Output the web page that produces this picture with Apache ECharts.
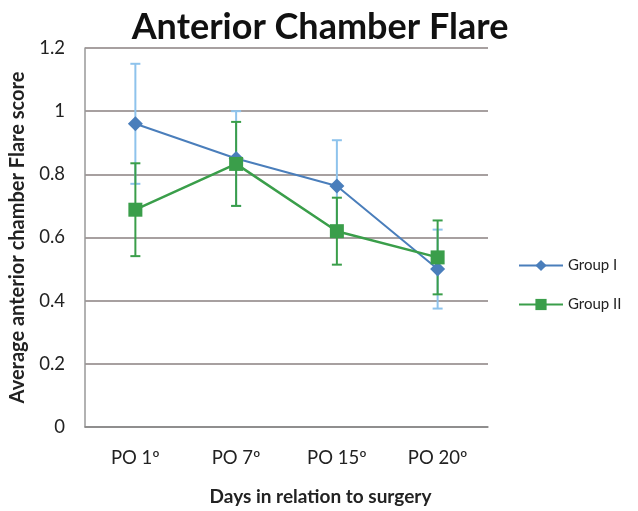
<!DOCTYPE html>
<html><head><meta charset="utf-8">
<script src="https://cdn.jsdelivr.net/npm/echarts@6/dist/echarts.min.js"></script>
<style>html,body{margin:0;padding:0;background:#fff}#c{width:638px;height:511px}</style>
</head><body><div id="c"></div>
<script>
const categories = ['PO 1º', 'PO 7º', 'PO 15º', 'PO 20º'];
const groupI = [0.96, 0.85, 0.763, 0.50];
const groupIErr = [0.19, 0.15, 0.145, 0.125];
const groupII = [0.688, 0.833, 0.62, 0.537];
const groupIIErr = [0.147, 0.133, 0.106, 0.117];

const blue = '#4a7ebb', lightBlue = '#8ec3ec', green = '#3a9e4a';
const font = 'Lato, "Open Sans", sans-serif';

function errData(vals, errs){ return vals.map((v,i)=>[i, v-errs[i], v+errs[i]]); }
function errRender(color){
  return function(params, api){
    const x = api.value(0);
    const lo = api.coord([x, api.value(1)]);
    const hi = api.coord([x, api.value(2)]);
    const w = 5;
    const st = {stroke: color, lineWidth: 2};
    return {type:'group', children:[
      {type:'line', shape:{x1:lo[0],y1:lo[1],x2:hi[0],y2:hi[1]}, style:st},
      {type:'line', shape:{x1:lo[0]-w,y1:lo[1],x2:lo[0]+w,y2:lo[1]}, style:st},
      {type:'line', shape:{x1:hi[0]-w,y1:hi[1],x2:hi[0]+w,y2:hi[1]}, style:st}
    ]};
  };
}

const chart = echarts.init(document.getElementById('c'));
chart.setOption({
  animation:false,
  title:{text:'Anterior Chamber Flare', left:315, textAlign:'center', top:4,
    textStyle:{fontFamily:font, fontWeight:'bold', fontSize:36, color:'#111'}},
  grid:{left:85, right:150, top:48, bottom:81},
  legend:{orient:'vertical', left:513, top:253, itemGap:24, itemWidth:44, itemHeight:14,
    textStyle:{fontFamily:font, fontSize:15, color:'#222'},
    data:['Group I','Group II']},
  xAxis:{type:'category', data:categories, boundaryGap:true,
    axisTick:{show:false}, axisLine:{lineStyle:{color:'#888', width:1.5}},
    axisLabel:{fontFamily:font, fontSize:18.5, color:'#222', margin:22},
    name:'Days in relation to surgery', nameLocation:'middle', nameGap:60,
    nameTextStyle:{fontFamily:font, fontSize:19, fontWeight:'bold', color:'#222', padding:[0,0,0,68]}},
  yAxis:{type:'value', min:0, max:1.2, interval:0.2,
    axisLine:{show:true, lineStyle:{color:'#999', width:1.5}}, axisTick:{show:false},
    splitLine:{lineStyle:{color:'#8a8080', width:1.5}},
    axisLabel:{fontFamily:font, fontSize:18.5, color:'#222', margin:20},
    name:'Average anterior chamber Flare score', nameLocation:'middle', nameGap:57, nameRotate:90,
    nameTextStyle:{fontFamily:font, fontSize:20, fontWeight:'bold', color:'#222'}},
  series:[
    {type:'custom', name:'errI', renderItem:errRender(lightBlue), data:errData(groupI, groupIErr), z:1, silent:true},
    {type:'custom', name:'errII', renderItem:errRender(green), data:errData(groupII, groupIIErr), z:2, silent:true},
    {type:'line', name:'Group I', data:groupI, symbol:'diamond', symbolSize:15,
      lineStyle:{color:blue, width:2}, itemStyle:{color:blue}, z:3},
    {type:'line', name:'Group II', data:groupII, symbol:'rect', symbolSize:14,
      lineStyle:{color:green, width:2.5}, itemStyle:{color:green}, z:4}
  ]
});
</script></body></html>
